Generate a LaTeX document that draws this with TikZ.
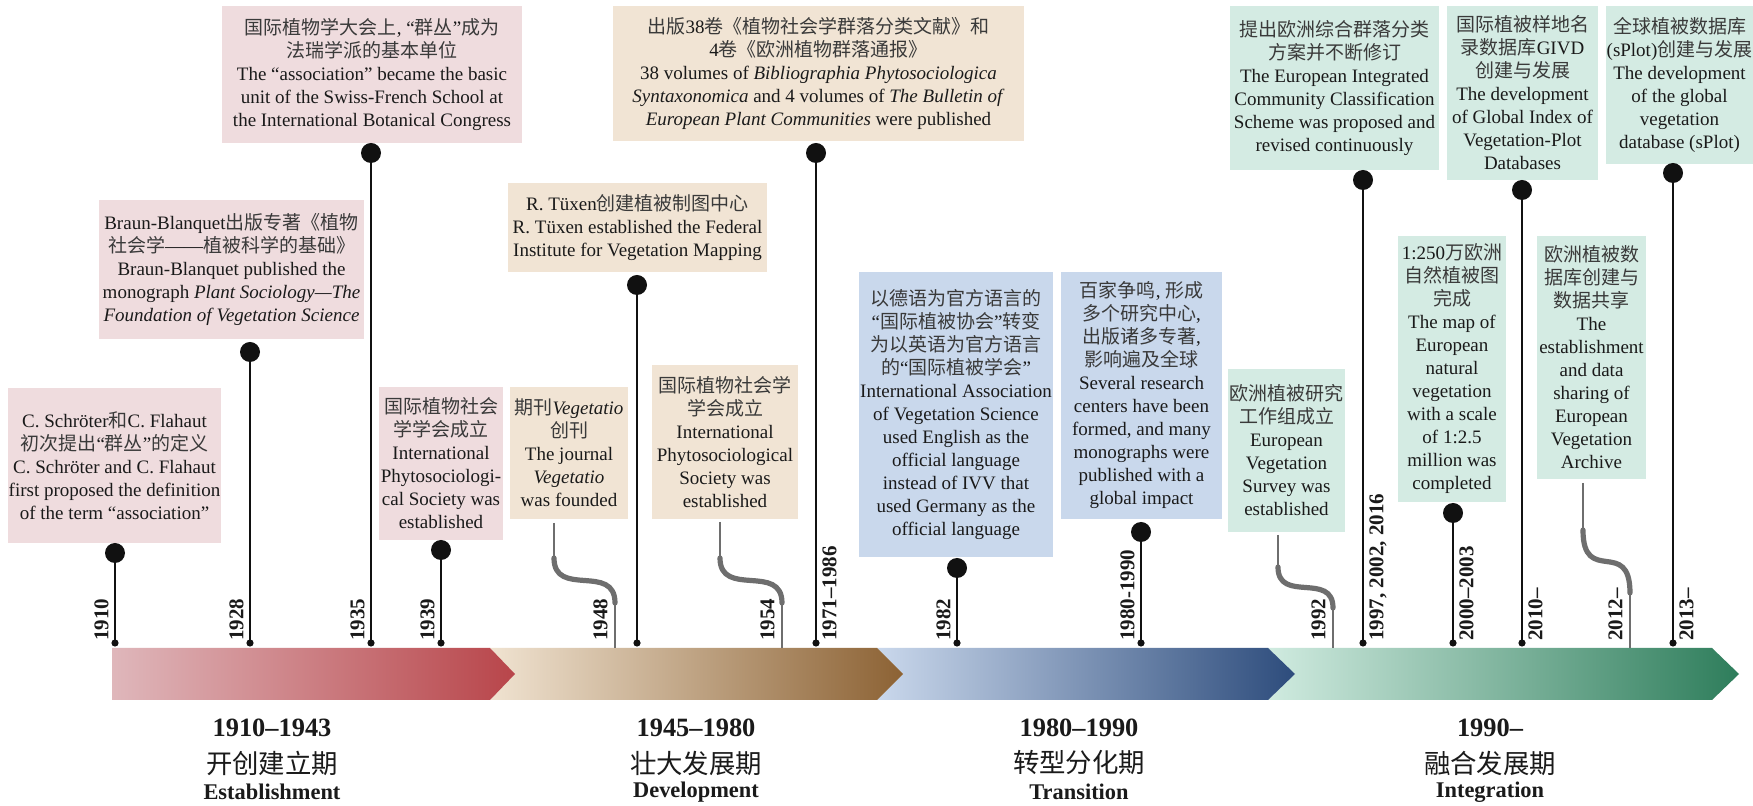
\documentclass[tikz,border=0pt]{standalone}
\usepackage{fontspec}
\setmainfont{Liberation Serif}
\newfontfamily\cjkfont{Noto Sans CJK SC}
\usetikzlibrary{calc}
\definecolor{txt}{HTML}{1A1A1A}
\definecolor{cjktxt}{HTML}{3A3A3A}
\definecolor{pinkbox}{HTML}{EFDCDE}
\definecolor{beigebox}{HTML}{F1E4D4}
\definecolor{bluebox}{HTML}{C9D8EC}
\definecolor{greenbox}{HTML}{D4EBE3}
\definecolor{sOneL}{HTML}{DFB7BB}
\definecolor{sOneR}{HTML}{B8454A}
\definecolor{sTwoL}{HTML}{F0E3D1}
\definecolor{sTwoR}{HTML}{8C6234}
\definecolor{sThreeL}{HTML}{CAD8EC}
\definecolor{sThreeR}{HTML}{2D4C7C}
\definecolor{sFourL}{HTML}{D0EBE0}
\definecolor{sFourR}{HTML}{2E7D5B}
\definecolor{stemc}{HTML}{111111}
\definecolor{wavec}{HTML}{6E6E6E}
\newcommand\zh[1]{{\cjkfont\color{cjktxt}#1}}
\newcommand\zhb[1]{{\cjkfont #1}}
\newcommand\boxfont{\fontsize{9.5}{11.5}\selectfont}
\newcommand\yrfont{\fontsize{10.5}{12}\selectfont\bfseries}
\newcommand\evbox[7]{%
  \node[evt, fill=#2, minimum width={(#5-#3)*0.5pt}, minimum height={(#6-#4)*0.5pt}] (#1) at ({(#3+#5)/2},{(#4+#6)/2}) {#7};}
\begin{document}
\begin{tikzpicture}[x=0.5pt,y=-0.5pt,
  evt/.style={inner sep=0pt, align=center, font=\boxfont, text=txt},
  bigdot/.style={circle, fill=stemc, inner sep=0pt, minimum size=10pt},
  smalldot/.style={circle, fill=stemc, inner sep=0pt, minimum size=3.6pt},
  stem/.style={draw=stemc, line width=1.1pt},
  wavethin/.style={draw=wavec, line width=1.3pt},
  wavethick/.style={draw=wavec, line width=2.6pt, line cap=round},
  yrL/.style={rotate=90, anchor=south west, inner sep=0pt, font=\yrfont, text=txt},
  yrR/.style={rotate=90, anchor=north west, inner sep=0pt, font=\yrfont, text=txt},
  pernum/.style={inner sep=0pt, font=\fontsize{13.2}{15}\selectfont\bfseries, text=txt},
  perzh/.style={inner sep=0pt, font=\fontsize{13.2}{15}\selectfont, text=txt},
  peren/.style={inner sep=0pt, font=\fontsize{11.2}{13}\selectfont\bfseries, text=txt}]
\useasboundingbox (0,0) rectangle (1753,806);
\fill[white] (0,0) rectangle (1753,806);

% ---- timeline bar ----
\shade[left color=sFourL, right color=sFourR] (1268,648) -- (1712,648) -- (1739,674) -- (1712,700) -- (1268,700) -- (1295,674) -- cycle;
\shade[left color=sThreeL, right color=sThreeR] (877,648) -- (1268,648) -- (1295,674) -- (1268,700) -- (877,700) -- (903,674) -- cycle;
\shade[left color=sTwoL, right color=sTwoR] (490,648) -- (877,648) -- (903,674) -- (877,700) -- (490,700) -- (515,674) -- cycle;
\shade[left color=sOneL, right color=sOneR] (112,648) -- (490,648) -- (515,674) -- (490,700) -- (112,700) -- cycle;

% ---- event boxes ----
\evbox{p1}{pinkbox}{8}{388}{221}{543}{C. Schröter\zh{和}C. Flahaut\\\zh{初次提出}“\zh{群丛}”\zh{的定义}\\C. Schröter and C. Flahaut\\first proposed the definition\\of the term “association”}
\evbox{p2}{pinkbox}{99}{200}{364}{339}{Braun-Blanquet\zh{出版专著《植物}\\\zh{社会学}——\zh{植被科学的基础》}\\Braun-Blanquet published the\\monograph \textit{Plant Sociology—The}\\\textit{Foundation of Vegetation Science}}
\evbox{p3}{pinkbox}{222}{6}{522}{143}{\zh{国际植物学大会上}, “\zh{群丛}”\zh{成为}\\\zh{法瑞学派的基本单位}\\The “association” became the basic\\unit of the Swiss-French School at\\the International Botanical Congress}
\evbox{p4}{pinkbox}{379}{387}{503}{540}{\zh{国际植物社会}\\\zh{学学会成立}\\International\\Phytosociologi-\\cal Society was\\established}
\evbox{b1}{beigebox}{510}{387}{628}{519}{\zh{期刊}\textit{Vegetatio}\\\zh{创刊}\\The journal\\\textit{Vegetatio}\\was founded}
\evbox{b2}{beigebox}{508}{183}{767}{272}{R. Tüxen\zh{创建植被制图中心}\\R. Tüxen established the Federal\\Institute for Vegetation Mapping}
\evbox{b3}{beigebox}{652}{365}{798}{519}{\zh{国际植物社会学}\\\zh{学会成立}\\International\\Phytosociological\\Society was\\established}
\evbox{b4}{beigebox}{613}{6}{1024}{141}{\zh{出版}38\zh{卷《植物社会学群落分类文献》和}\\4\zh{卷《欧洲植物群落通报》}\\38 volumes of \textit{Bibliographia Phytosociologica}\\\textit{Syntaxonomica} and 4 volumes of \textit{The Bulletin of}\\\textit{European Plant Communities} were published}
\evbox{l1}{bluebox}{859}{272}{1053}{557}{\zh{以德语为官方语言的}\\“\zh{国际植被协会}”\zh{转变}\\\zh{为以英语为官方语言}\\\zh{的}“\zh{国际植被学会}”\\International Association\\of Vegetation Science\\used English as the\\official language\\instead of IVV that\\used Germany as the\\official language}
\evbox{l2}{bluebox}{1061}{272}{1222}{519}{\zh{百家争鸣}, \zh{形成}\\\zh{多个研究中心},\\\zh{出版诸多专著},\\\zh{影响遍及全球}\\Several research\\centers have been\\formed, and many\\monographs were\\published with a\\global impact}
\evbox{g1}{greenbox}{1228}{369}{1345}{532}{\zh{欧洲植被研究}\\\zh{工作组成立}\\European\\Vegetation\\Survey was\\established}
\evbox{g2}{greenbox}{1230}{6}{1439}{170}{\zh{提出欧洲综合群落分类}\\\zh{方案并不断修订}\\The European Integrated\\Community Classification\\Scheme was proposed and\\revised continuously}
\evbox{g3}{greenbox}{1398}{236}{1506}{502}{1:250\zh{万欧洲}\\\zh{自然植被图}\\\zh{完成}\\The map of\\European\\natural\\vegetation\\with a scale\\of 1:2.5\\million was\\completed}
\evbox{g4}{greenbox}{1447}{6}{1598}{180}{\zh{国际植被样地名}\\\zh{录数据库}GIVD\\\zh{创建与发展}\\The development\\of Global Index of\\Vegetation-Plot\\Databases}
\evbox{g5}{greenbox}{1537}{236}{1646}{479}{\zh{欧洲植被数}\\\zh{据库创建与}\\\zh{数据共享}\\The\\establishment\\and data\\sharing of\\European\\Vegetation\\Archive}
\evbox{g6}{greenbox}{1606}{6}{1753}{164}{\zh{全球植被数据库}\\(sPlot)\zh{创建与发展}\\The development\\of the global\\vegetation\\database (sPlot)}

% ---- stems with dots ----
\foreach \n/\x/\y in {p1/115/553, p2/250/352, p3/371/153, p4/441/550, b2/637/285, b4/816/153, l1/957/568, l2/1141/532, g2/1363/180, g3/1453/513, g4/1522/190, g6/1673/173}{
  \node[bigdot] (\n d) at (\x,\y) {};
  \node[smalldot] (\n t) at (\x,643) {};
  \draw[stem] (\n d.center) -- (\n t.center);
}

% ---- wavy gray connectors ----
\coordinate (w1a) at (554,523); \coordinate (w1b) at (554,558); \coordinate (w1c) at (615,603); \coordinate (w1d) at (615,648);
\coordinate (w2a) at (720,522); \coordinate (w2b) at (720,558); \coordinate (w2c) at (782,603); \coordinate (w2d) at (782,648);
\coordinate (w3a) at (1278,535); \coordinate (w3b) at (1278,567); \coordinate (w3c) at (1333,608); \coordinate (w3d) at (1333,648);
\coordinate (w4a) at (1583,483); \coordinate (w4b) at (1583,530); \coordinate (w4c) at (1630,593); \coordinate (w4d) at (1630,648);
\foreach \w in {w1,w2,w3,w4}{
  \draw[wavethin] (\w a) -- (\w b);
  \draw[wavethick] (\w b) .. controls ($(\w b)!0.9!(\w b |- \w c)$) and ($(\w c)!0.9!(\w c |- \w b)$) .. (\w c);
  \draw[wavethin] (\w c) -- (\w d);
}

% ---- year labels ----
\node[yrL] (y1910) at ($(p1t)+(-6,-2)$) {1910};
\node[yrL] (y1928) at ($(p2t)+(-6,-2)$) {1928};
\node[yrL] (y1935) at ($(p3t)+(-6,-2)$) {1935};
\node[yrL] (y1939) at ($(p4t)+(-6,-2)$) {1939};
\node[yrL] (y1948) at ($(w1d)+(-7,-7)$) {1948};
\node[yrL] (y1954) at ($(w2d)+(-7,-7)$) {1954};
\node[yrR] (y1971) at ($(b4t)+(6,-2)$) {1971–1986};
\node[yrL] (y1982) at ($(l1t)+(-6,-2)$) {1982};
\node[yrL] (y1980) at ($(l2t)+(-6,-2)$) {1980-1990};
\node[yrL] (y1992) at ($(w3d)+(-7,-7)$) {1992};
\node[yrR] (y1997) at ($(g2t)+(6,-2)$) {1997, 2002, 2016};
\node[yrR] (y2000) at ($(g3t)+(6,-2)$) {2000–2003};
\node[yrR] (y2010) at ($(g4t)+(6,-2)$) {2010–};
\node[yrL] (y2012) at ($(w4d)+(-7,-7)$) {2012–};
\node[yrR] (y2013) at ($(g6t)+(6,-2)$) {2013–};

% ---- period labels ----
\node[pernum] (e1n) at (272,728) {1910–1943};
\node[perzh] (e1z) at (272,763) {\zhb{开创建立期}};
\node[peren] (e1e) at (272,792) {Establishment};
\node[pernum] (e2n) at (696,728) {1945–1980};
\node[perzh] (e2z) at (696,763) {\zhb{壮大发展期}};
\node[peren] (e2e) at (696,792) {Development};
\node[pernum] (e3n) at (1079,728) {1980–1990};
\node[perzh] (e3z) at (1079,763) {\zhb{转型分化期}};
\node[peren] (e3e) at (1079,792) {Transition};
\node[pernum] (e4n) at (1490,728) {1990–};
\node[perzh] (e4z) at (1490,763) {\zhb{融合发展期}};
\node[peren] (e4e) at (1490,792) {Integration};
\end{tikzpicture}
\end{document}
